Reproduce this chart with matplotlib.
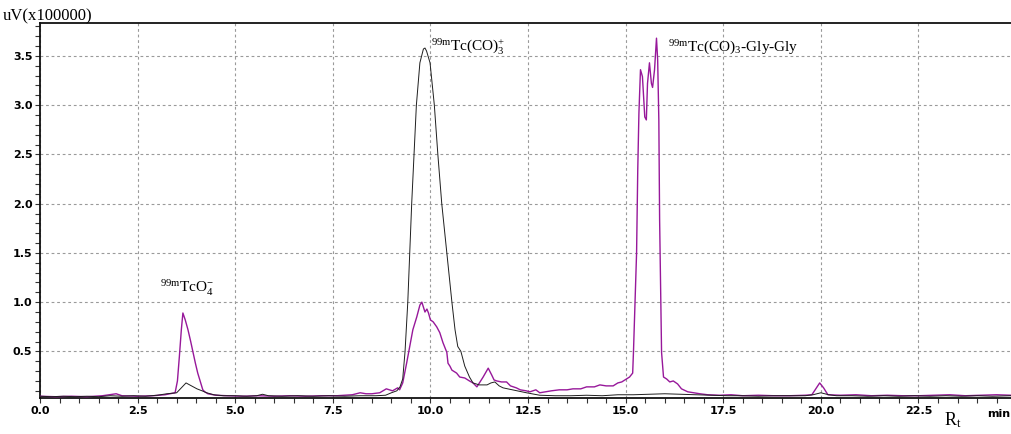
#!/usr/bin/env python
# Radio-HPLC overlay: 99mTc(CO)3+ precursor vs 99mTc(CO)3-Gly-Gly
import numpy as np
import matplotlib
matplotlib.use("Agg")
import matplotlib.pyplot as plt
from matplotlib.ticker import MultipleLocator, FixedLocator

plt.rcParams.update({
    "font.family": ["Liberation Serif", "DejaVu Serif"],
    "mathtext.fontset": "custom",
    "mathtext.rm": "Liberation Serif",
    "mathtext.it": "Liberation Serif:italic",
})

# precursor trace (black), retention time in min, signal in uV x 1e5
prec_t = [0.0, 0.3, 0.6, 0.9, 1.2, 1.5, 1.8, 2.1, 2.4, 2.7, 3.0, 3.25, 3.5, 3.62,
          3.74, 3.88, 4.02, 4.15, 4.27, 4.45, 4.7, 5.0, 5.3, 5.55, 5.7, 5.85, 6.2,
          6.6, 7.0, 7.4, 7.8, 8.2, 8.6, 8.85, 9.0, 9.14, 9.22, 9.29, 9.35, 9.42,
          9.47, 9.52, 9.58, 9.64, 9.73, 9.82, 9.86, 9.9, 9.99, 10.1, 10.19, 10.29,
          10.42, 10.55, 10.63, 10.7, 10.78, 10.88, 11.0, 11.09, 11.25, 11.45, 11.55,
          11.65, 11.76, 11.86, 12.1, 12.46, 12.8, 13.2, 13.6, 14.0, 14.4, 14.8, 15.2,
          15.6, 16.0, 16.4, 16.8, 17.2, 17.6, 18.0, 18.4, 18.8, 19.2, 19.6, 19.8,
          20.0, 20.2, 20.4, 20.8, 21.2, 21.6, 22.0, 22.4, 22.8, 23.2, 23.6, 24.0,
          24.4, 24.87]
prec_v = [0.045, 0.04, 0.045, 0.04, 0.045, 0.04, 0.05, 0.045, 0.05, 0.045, 0.055,
          0.07, 0.08, 0.13, 0.18, 0.15, 0.12, 0.1, 0.08, 0.06, 0.05, 0.05, 0.045,
          0.05, 0.065, 0.05, 0.045, 0.05, 0.045, 0.05, 0.045, 0.05, 0.05, 0.055,
          0.08, 0.1, 0.14, 0.22, 0.5, 1.0, 1.5, 2.0, 2.5, 3.0, 3.43, 3.57, 3.58,
          3.55, 3.43, 3.0, 2.5, 2.0, 1.5, 1.0, 0.72, 0.55, 0.5, 0.35, 0.24, 0.18,
          0.16, 0.16, 0.18, 0.19, 0.15, 0.13, 0.11, 0.08, 0.055, 0.05, 0.05, 0.055,
          0.05, 0.06, 0.06, 0.065, 0.07, 0.065, 0.06, 0.055, 0.05, 0.05, 0.045,
          0.05, 0.05, 0.05, 0.06, 0.08, 0.06, 0.05, 0.05, 0.045, 0.05, 0.045, 0.05,
          0.045, 0.05, 0.045, 0.05, 0.045, 0.05]

# Gly-Gly complex trace (purple)
glygly_t = [0.0, 0.4, 0.8, 1.2, 1.6, 1.85, 1.95, 2.1, 2.5, 2.9, 3.2, 3.46, 3.52,
            3.57, 3.62, 3.66, 3.72, 3.79, 3.86, 3.92, 3.98, 4.04, 4.1, 4.17, 4.22,
            4.3, 4.5, 4.8, 5.2, 5.6, 6.0, 6.4, 6.8, 7.2, 7.6, 8.0, 8.2, 8.35, 8.5,
            8.7, 8.87, 9.03, 9.16, 9.21, 9.29, 9.39, 9.47, 9.55, 9.65, 9.73, 9.78,
            9.82, 9.86, 9.91, 9.95, 10.0, 10.07, 10.16, 10.24, 10.32, 10.42, 10.45,
            10.5, 10.55, 10.67, 10.75, 10.88, 11.0, 11.09, 11.19, 11.27, 11.35,
            11.48, 11.57, 11.63, 11.7, 11.82, 11.95, 12.05, 12.2, 12.3, 12.45,
            12.55, 12.7, 12.8, 12.95, 13.1, 13.3, 13.5, 13.65, 13.85, 14.0, 14.2,
            14.34, 14.5, 14.68, 14.8, 14.9, 14.98, 15.1, 15.18, 15.2, 15.28, 15.31,
            15.34, 15.38, 15.43, 15.49, 15.53, 15.56, 15.61, 15.66, 15.69, 15.74,
            15.79, 15.82, 15.85, 15.87, 15.92, 15.97, 16.05, 16.13, 16.22, 16.33,
            16.43, 16.59, 16.75, 16.9, 17.1, 17.4, 17.7, 18.0, 18.4, 18.8, 19.2,
            19.6, 19.77, 19.87, 19.97, 20.07, 20.18, 20.5, 20.9, 21.3, 21.7, 22.1,
            22.5, 22.9, 23.3, 23.7, 24.1, 24.5, 24.87]
glygly_v = [0.045, 0.04, 0.045, 0.04, 0.05, 0.065, 0.07, 0.05, 0.045, 0.05, 0.06,
            0.08, 0.2, 0.45, 0.72, 0.89, 0.82, 0.72, 0.6, 0.49, 0.38, 0.28, 0.2,
            0.11, 0.09, 0.07, 0.055, 0.05, 0.045, 0.05, 0.045, 0.05, 0.045, 0.05,
            0.05, 0.06, 0.08, 0.07, 0.07, 0.08, 0.12, 0.1, 0.13, 0.11, 0.18, 0.38,
            0.55, 0.72, 0.85, 0.97, 1.0, 0.95, 0.9, 0.93, 0.89, 0.82, 0.8, 0.75,
            0.69, 0.59, 0.49, 0.38, 0.35, 0.31, 0.28, 0.24, 0.23, 0.2, 0.18, 0.14,
            0.19, 0.24, 0.33, 0.26, 0.21, 0.2, 0.19, 0.19, 0.15, 0.13, 0.11, 0.1,
            0.09, 0.11, 0.08, 0.09, 0.1, 0.11, 0.11, 0.12, 0.12, 0.14, 0.14, 0.16,
            0.15, 0.15, 0.18, 0.19, 0.21, 0.24, 0.28, 0.49, 1.5, 2.34, 2.92, 3.36,
            3.29, 2.88, 2.85, 3.22, 3.43, 3.22, 3.18, 3.36, 3.68, 3.46, 2.85, 1.84,
            0.49, 0.24, 0.22, 0.19, 0.2, 0.17, 0.12, 0.09, 0.08, 0.07, 0.06, 0.055,
            0.06, 0.05, 0.055, 0.05, 0.05, 0.055, 0.06, 0.12, 0.18, 0.13, 0.06,
            0.055, 0.06, 0.05, 0.055, 0.05, 0.05, 0.055, 0.06, 0.05, 0.055, 0.06,
            0.055]

x_major = [0.0, 2.5, 5.0, 7.5, 10.0, 12.5, 15.0, 17.5, 20.0, 22.5]
y_major = [0.5, 1.0, 1.5, 2.0, 2.5, 3.0, 3.5]

W, H = 1011, 434
fig = plt.figure(figsize=(W / 100, H / 100), dpi=100)
ax = fig.add_axes([40 / W, 1 - 398 / H, 1 - 40 / W, (398 - 23) / H])

ax.plot(glygly_t, glygly_v, color="#97189a", lw=1.0, zorder=3)
ax.plot(prec_t, prec_v, color="#1e1e1e", lw=0.7, zorder=4)

ax.set_xlim(0, 24.87)
ax.set_ylim(0.027, 3.834)

tick_font = dict(family=["Liberation Sans Narrow", "DejaVu Sans"],
                 weight="bold", size=8)
ax.xaxis.set_major_locator(FixedLocator(x_major))
ax.xaxis.set_minor_locator(MultipleLocator(0.5))
ax.yaxis.set_major_locator(FixedLocator(y_major))
ax.yaxis.set_minor_locator(MultipleLocator(0.1))
ax.set_xticklabels([f"{v:.1f}" for v in x_major], fontdict=tick_font)
ax.set_yticklabels([f"{v:.1f}" for v in y_major], fontdict=tick_font)
ax.tick_params(which="both", direction="out", length=3.5, width=0.8,
               color="#333333", pad=2)

ax.grid(True, which="major", color="#9a9a9a", lw=0.8, ls=(0, (2.5, 2.5)))
ax.set_axisbelow(True)
for side in ("left", "bottom", "top"):
    ax.spines[side].set_linewidth(1.3)
    ax.spines[side].set_color("#111111")
ax.spines["right"].set_visible(False)

# unit label sits where the 25.0 tick would be, kept inside the frame
ax.text(24.84, -0.135, "min", ha="right", va="center", clip_on=False,
        **tick_font)

# peak labels
ax.text(3.07, 1.095, r"$^{\mathrm{99m}}$TcO$_{4}^{-}$", fontsize=11,
        va="baseline")
ax.text(10.01, 3.555, r"$^{\mathrm{99m}}$Tc(CO)$_{3}^{+}$", fontsize=11,
        va="baseline")
ax.text(16.08, 3.54, r"$^{\mathrm{99m}}$Tc(CO)$_{3}$-Gly-Gly", fontsize=11,
        va="baseline")

fig.text(3 / W, 1 - 20 / H, "uV(x100000)", fontsize=12, va="baseline")
fig.text(944 / W, 1 - 425 / H, r"R$_{\mathrm{t}}$", fontsize=13, va="baseline")

fig.savefig("out.png", dpi=100)
